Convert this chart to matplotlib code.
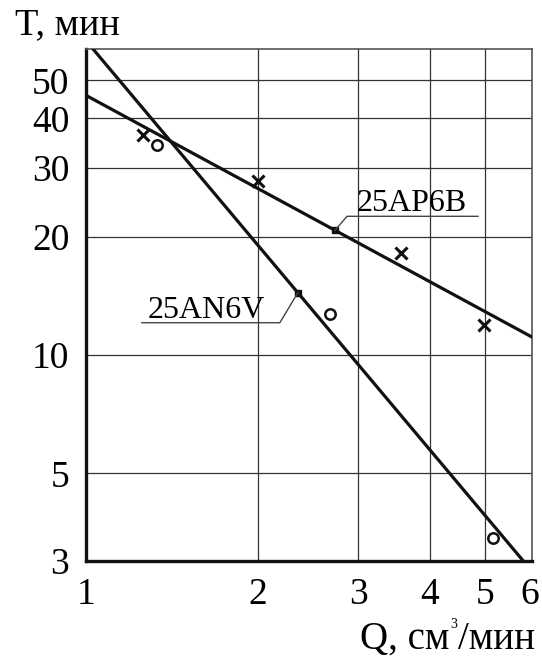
import numpy as np
import matplotlib
matplotlib.use("Agg")
import matplotlib.pyplot as plt
from matplotlib.ticker import FixedLocator, NullLocator, FixedFormatter
from matplotlib.lines import Line2D

plt.rcParams['font.family'] = ['Liberation Serif', 'DejaVu Serif']

# measured points, tool wear life T vs flow Q
q_ap6b = [1.26, 2.0, 3.56, 4.98]
t_ap6b = [36.4, 27.8, 18.2, 11.9]
q_an6v = [1.33, 2.68, 5.16]
t_an6v = [34.3, 12.7, 3.42]

# fitted lines T = a * Q^b
a_ap6b, b_ap6b = 45.8, -0.787
a_an6v, b_an6v = 63.1, -1.728

x_ticks = [1, 2, 3, 4, 5, 6]
y_ticks = [3, 5, 10, 20, 30, 40, 50]
x_grid = [2, 3, 4, 5]
y_grid = [5, 10, 20, 30, 40, 50]

# label anchors on the fitted lines
q_lbl_ap6b = 2.73
q_lbl_an6v = 2.35

W, H = 542, 657
fig = plt.figure(figsize=(W / 100, H / 100), dpi=100)
ax = fig.add_axes([0.1587, 0.1466, 0.8234, 0.7784])
ax.set_xscale('log')
ax.set_yscale('log')
ax.set_xlim(1, 6.05)
ax.set_ylim(3, 60)

for g in x_grid:
    ax.axvline(g, color='#333333', lw=0.9, zorder=1)
for g in y_grid:
    ax.axhline(g, color='#333333', lw=0.9, zorder=1)

qq = np.geomspace(1, 6.05, 200)
ax.plot(qq, a_ap6b * qq ** b_ap6b, color='#111111', lw=2.3, zorder=3)
ax.plot(qq, a_an6v * qq ** b_an6v, color='#111111', lw=2.3, zorder=3)

ax.plot(q_ap6b, t_ap6b, 'x', color='#111111', ms=8, mew=2.2, zorder=4)
ax.plot(q_an6v, t_an6v, 'o', mfc='none', mec='#111111', ms=7.5, mew=1.8, zorder=4)

for sp in ['left', 'bottom']:
    ax.spines[sp].set_linewidth(2.4)
    ax.spines[sp].set_color('#111111')
for sp in ['right', 'top']:
    ax.spines[sp].set_linewidth(1.2)
    ax.spines[sp].set_color('#555555')

ax.xaxis.set_major_locator(FixedLocator(x_ticks))
ax.xaxis.set_major_formatter(FixedFormatter([str(v) for v in x_ticks]))
ax.xaxis.set_minor_locator(NullLocator())
ax.yaxis.set_major_locator(FixedLocator(y_ticks))
ax.yaxis.set_major_formatter(FixedFormatter([str(v) for v in y_ticks]))
ax.yaxis.set_minor_locator(NullLocator())
ax.tick_params(length=0, labelsize=27, pad=12)

fig.text(15 / W, 1 - 34 / H, 'T, мин', fontsize=27.5, ha='left', va='baseline')

# x axis title built from pieces so the cube sign stays small
fig.canvas.draw()
rend = fig.canvas.get_renderer()
base_y = 1 - 649 / H
t1 = fig.text(535 / W, base_y, '/мин', fontsize=28, ha='right', va='baseline')
x_left = t1.get_window_extent(rend).x0
t2 = fig.text((x_left - 1) / W, base_y + 21 / H, '3', fontsize=10, ha='right', va='baseline')
x_left = t2.get_window_extent(rend).x0
fig.text((x_left - 1) / W, base_y, 'Q, см', fontsize=28, ha='right', va='baseline')

# callouts: small square on the line, bent leader, underlined name
def callout(q, a, b, pts, text_dx, text_dy, ha, name):
    t = a * q ** b
    x0, y0 = ax.transData.transform((q, t))
    xs = [x0] + [x0 + dx for dx, dy in pts]
    ys = [y0] + [y0 + dy for dx, dy in pts]
    fig.add_artist(Line2D(xs, ys, transform=None, color='#444444', lw=1.0))
    ax.plot([q], [t], 's', color='#111111', ms=4, zorder=5)
    fig.text((x0 + text_dx) / W, (y0 + text_dy) / H, name, fontsize=23,
             ha=ha, va='baseline')

callout(q_lbl_ap6b, a_ap6b, b_ap6b, [(12, 14), (143, 14)], 22, 19, 'left', '25AP6B')
callout(q_lbl_an6v, a_an6v, b_an6v, [(-18, -30), (-156, -30)], -33, -25, 'right', '25AN6V')

fig.savefig('out.png', dpi=100)
